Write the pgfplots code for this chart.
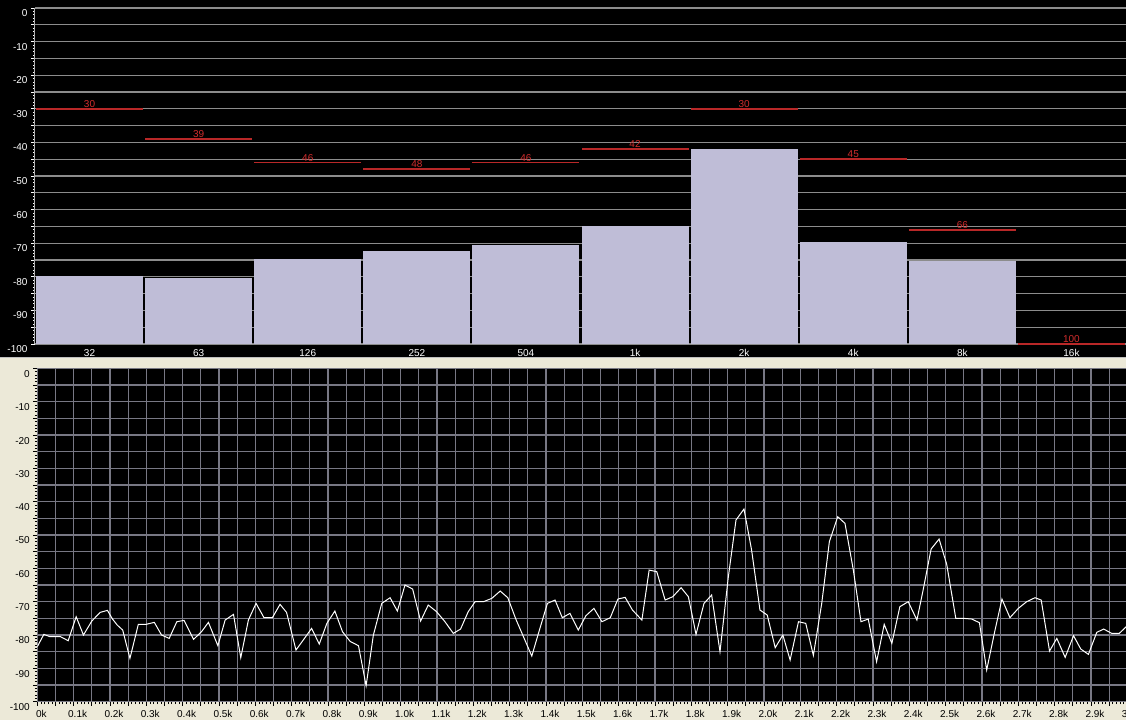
\documentclass[border=0pt]{standalone}
\usepackage{pgfplots}
\usepackage{pgfplotstable}
\pgfplotsset{compat=1.18}
\usepackage{fontspec}
\setmainfont{Liberation Sans}
\definecolor{beige}{RGB}{236,233,216}
\definecolor{barfill}{RGB}{191,189,215}
\definecolor{redline}{RGB}{185,40,40}
\definecolor{redtext}{RGB}{210,45,45}
\definecolor{gridtop}{RGB}{140,140,140}
\definecolor{gridbot}{RGB}{120,120,132}

\pgfplotstableread{
x y lab
0 -30 30
1 -39 39
2 -46 46
3 -48 48
4 -46 46
5 -42 42
6 -30 30
7 -45 45
8 -66 66
9 -100 100
}\redtab

\pgfplotstableread{
k v
0.000 -83.5
0.018 -79.8
0.035 -80.5
0.064 -80.5
0.085 -81.7
0.107 -74.5
0.127 -80
0.150 -75.8
0.173 -73.2
0.193 -72.6
0.207 -75.2
0.220 -77
0.235 -78.5
0.255 -87
0.278 -76.8
0.299 -76.8
0.322 -76.2
0.342 -80
0.363 -81
0.384 -76
0.404 -75.6
0.430 -81.3
0.452 -79
0.471 -76.2
0.497 -83.2
0.517 -75.5
0.540 -73.8
0.560 -86.8
0.581 -75.5
0.602 -70.5
0.624 -74.8
0.647 -74.8
0.668 -70.8
0.686 -73.2
0.712 -84.5
0.732 -81.5
0.755 -78
0.776 -82.7
0.797 -76.5
0.819 -72.8
0.840 -79
0.861 -81.9
0.884 -83.2
0.905 -95.2
0.925 -80
0.948 -70.5
0.971 -68.8
0.991 -72.8
1.012 -65
1.033 -66.2
1.055 -75.8
1.076 -71
1.099 -73
1.122 -76
1.145 -79.5
1.165 -78.2
1.186 -73
1.205 -70
1.228 -70
1.251 -69
1.274 -66.8
1.295 -68.8
1.317 -75.2
1.338 -80.5
1.361 -86.3
1.382 -78.5
1.404 -70.5
1.425 -69.5
1.445 -74.8
1.466 -73.5
1.489 -78.5
1.510 -74.2
1.532 -72
1.554 -76
1.577 -74.8
1.598 -69.2
1.618 -68.7
1.638 -72.5
1.664 -75.5
1.684 -60.5
1.705 -61
1.728 -69.5
1.749 -68.5
1.772 -65.8
1.792 -68.5
1.813 -79.8
1.835 -70.5
1.856 -68
1.879 -85
1.902 -62.5
1.923 -45.5
1.945 -42.2
1.966 -54.5
1.989 -72.5
2.009 -74
2.031 -83.8
2.052 -80
2.072 -87.5
2.095 -76
2.115 -76.5
2.136 -86.1
2.159 -70.5
2.180 -52
2.203 -44.5
2.223 -46.5
2.246 -60.5
2.267 -76
2.287 -75.2
2.310 -88
2.331 -76.8
2.352 -82.5
2.374 -71.5
2.397 -70
2.421 -75.5
2.439 -66
2.460 -54.2
2.482 -51.2
2.503 -58.8
2.528 -75
2.550 -75
2.572 -75.2
2.593 -76.3
2.613 -90.5
2.634 -79.5
2.655 -69.2
2.677 -74.8
2.700 -72
2.723 -70
2.746 -68.8
2.763 -69.5
2.786 -84.8
2.806 -81
2.829 -86.7
2.852 -80.2
2.872 -84.2
2.893 -85.8
2.916 -79.2
2.935 -78.2
2.957 -79.5
2.978 -79.5
2.997 -77.5
}\spectab

\begin{document}
\begin{tikzpicture}
\useasboundingbox (0pt,0pt) rectangle (1126pt,720pt);
\fill[beige] (0pt,0pt) rectangle (1126pt,720pt);
\fill[black] (0pt,362pt) rectangle (1126pt,720pt);
\draw[gray!50, line width=1pt] (0pt,362pt) -- (1126pt,362pt);

% ---------- top panel ----------
\begin{axis}[
  at={(35pt,376pt)}, anchor=south west,
  width=1091pt, height=336pt, scale only axis,
  xmin=-0.5, xmax=9.5, ymin=-100, ymax=0,
  clip=false,
  axis x line*=bottom, axis y line*=left,
  x axis line style={draw=none},
  y axis line style={gray!60, line width=1pt},
  xtick={0,...,9},
  xticklabels={32,63,126,252,504,1k,2k,4k,8k,16k},
  major x tick style={draw=none},
  ytick={-100,-95,...,0},
  yticklabels={-100,,-90,,-80,,-70,,-60,,-50,,-40,,-30,,-20,,-10,,0},
  minor y tick num=4,
  ymajorgrids, grid style={gridtop, line width=1.2pt},
  tick align=outside,
  major tick length=4pt, minor tick length=2pt,
  y tick style={white, line width=0.6pt},
  ticklabel style={font=\fontsize{10}{12}\selectfont},
  yticklabel style={white, yshift=-5pt},
  xticklabel style={white, yshift=2.5pt},
]
\addplot[fill=barfill, draw=none] coordinates {(-0.49,-100) (-0.49,-79.8) (0.49,-79.8) (0.49,-100)};
\addplot[fill=barfill, draw=none] coordinates {(0.51,-100) (0.51,-80.4) (1.49,-80.4) (1.49,-100)};
\addplot[fill=barfill, draw=none] coordinates {(1.51,-100) (1.51,-74.6) (2.49,-74.6) (2.49,-100)};
\addplot[fill=barfill, draw=none] coordinates {(2.51,-100) (2.51,-72.3) (3.49,-72.3) (3.49,-100)};
\addplot[fill=barfill, draw=none] coordinates {(3.51,-100) (3.51,-70.5) (4.49,-70.5) (4.49,-100)};
\addplot[fill=barfill, draw=none] coordinates {(4.51,-100) (4.51,-65) (5.49,-65) (5.49,-100)};
\addplot[fill=barfill, draw=none] coordinates {(5.51,-100) (5.51,-42) (6.49,-42) (6.49,-100)};
\addplot[fill=barfill, draw=none] coordinates {(6.51,-100) (6.51,-69.5) (7.49,-69.5) (7.49,-100)};
\addplot[fill=barfill, draw=none] coordinates {(7.51,-100) (7.51,-75.2) (8.49,-75.2) (8.49,-100)};
\addplot[redline, only marks, mark=none,
  point meta=explicit symbolic,
  nodes near coords,
  nodes near coords style={text=redtext, font=\fontsize{10}{12}\selectfont, anchor=south, inner sep=1pt},
  error bars/.cd, x dir=both, x fixed=0.49, error mark=none,
  error bar style={redline, line width=1.6pt}]
  table[x=x, y=y, meta=lab] {\redtab};
\end{axis}

% ---------- bottom panel ----------
\begin{axis}[
  at={(37.3pt,18.3pt)}, anchor=south west,
  width=1090pt, height=333.3pt, scale only axis,
  xmin=0, xmax=3, ymin=-100, ymax=0,
  axis background/.style={fill=black},
  axis line style={gridbot, line width=1pt},
  xtick pos=lower, ytick pos=left,
  xtick={0,0.05,...,3.01},
  xticklabels={0k,,0.1k,,0.2k,,0.3k,,0.4k,,0.5k,,0.6k,,0.7k,,0.8k,,0.9k,,1.0k,,1.1k,,1.2k,,1.3k,,1.4k,,1.5k,,1.6k,,1.7k,,1.8k,,1.9k,,2.0k,,2.1k,,2.2k,,2.3k,,2.4k,,2.5k,,2.6k,,2.7k,,2.8k,,2.9k,,3.0k},
  ytick={-100,-95,...,0},
  yticklabels={-100,,-90,,-80,,-70,,-60,,-50,,-40,,-30,,-20,,-10,,0},
  minor x tick num=4, minor y tick num=4,
  grid=major, grid style={gridbot, line width=1.2pt},
  tick align=outside,
  major tick length=4pt, minor tick length=2.5pt,
  tick style={black, line width=0.6pt},
  ticklabel style={font=\fontsize{10}{12}\selectfont},
  xticklabel style={xshift=4pt, yshift=-1pt},
  yticklabel style={yshift=-5.5pt},
]
\addplot[white, line width=1pt] table[x=k, y=v] {\spectab};
\end{axis}
\end{tikzpicture}
\end{document}
